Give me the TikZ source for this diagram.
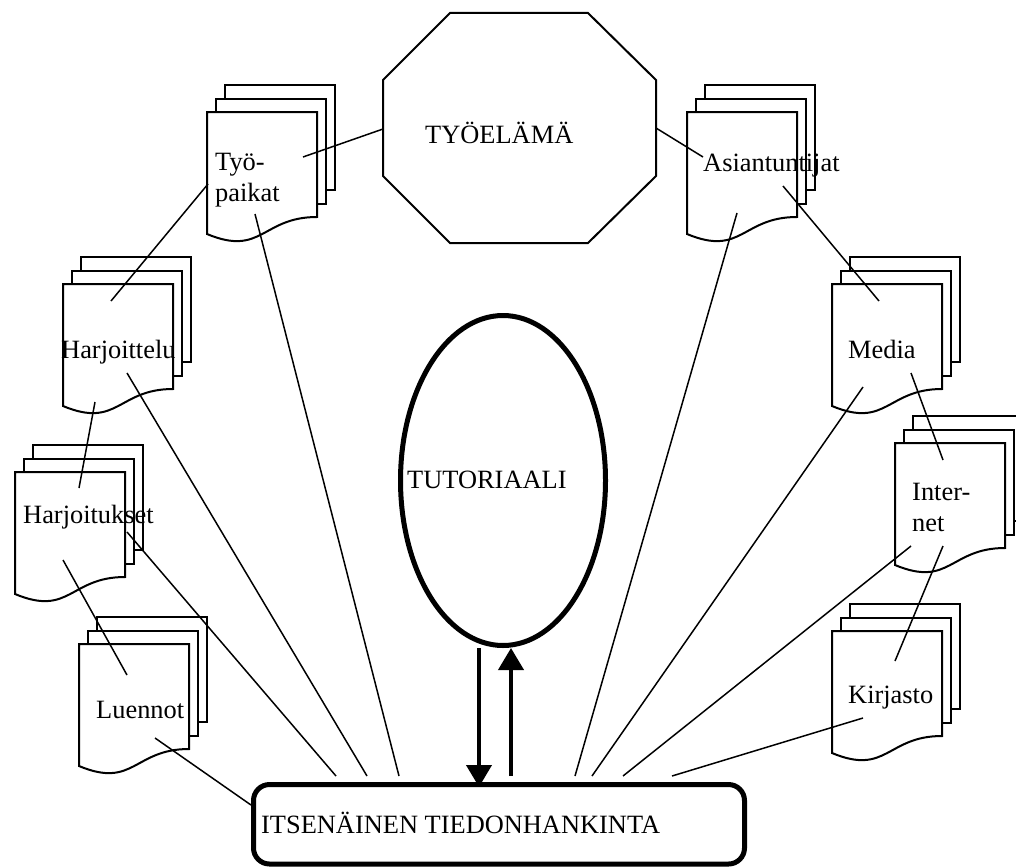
\documentclass[tikz,border=0pt]{standalone}
\usepackage{fontspec}
\setmainfont{Liberation Serif}
\usetikzlibrary{arrows.meta,shapes.geometric}

% stacked document symbol: front page top-left corner at (#1,#2)
\newcommand\docstack[2]{%
  \draw[sheet] (#1+18,#2-27) rectangle ++(110,105);
  \draw[sheet] (#1+9,#2-13) rectangle ++(110,105);
  \draw[sheet] (#1,#2) -- ++(110,0) -- ++(0,105)
    .. controls (#1+55,#2+105) and (#1+55,#2+145) .. (#1,#2+122) -- cycle;
}

\begin{document}
\begin{tikzpicture}[x=1pt,y=-1pt,
  sheet/.style={draw=black,fill=white,line width=2pt},
  link/.style={draw=black,line width=1.5pt},
  heavy/.style={draw=black,line width=4pt,-{Triangle[width=25pt,length=22pt]}},
  lbl/.style={font=\fontsize{26.4}{31.6}\selectfont,inner sep=0pt,anchor=base west},
]
\useasboundingbox (0,0) rectangle (1016,867);
\clip (0,0) rectangle (1016,867);
\fill[white] (0,0) rectangle (1016,867);

% octagon
\draw[black,line width=2pt,fill=white] (450,13) -- (588,13) -- (656,80) -- (656,176)
  -- (588,243) -- (450,243) -- (383,176) -- (383,80) -- cycle;
\node[lbl] (tyoelama) at (425,143) {TYÖELÄMÄ};

% central ellipse
\node[ellipse,draw=black,line width=5pt,minimum width=205pt,minimum height=330pt,inner sep=0pt] (tut) at (503,480.5) {};
\node[lbl] (tuttxt) at (407,488) {TUTORIAALI};

% bottom box
\node[draw=black,line width=5pt,rounded corners=16pt,minimum width=491pt,minimum height=79.5pt,inner sep=0pt] (box) at (499,824.25) {};
\node[lbl] (boxtxt) at (261,833) {ITSENÄINEN TIEDONHANKINTA};

% document stacks
\docstack{207}{112}
\docstack{687}{112}
\docstack{63}{284}
\docstack{832}{284}
\docstack{15}{472}
\docstack{895}{443}
\docstack{79}{644}
\docstack{832}{631}

\node[lbl] (tyopaikat) at (215,170) {\begin{tabular}[t]{@{}l@{}}Työ-\\paikat\end{tabular}};
\node[lbl] (asiant) at (703,171) {Asiantuntijat};
\node[lbl] (harjoittelu) at (61,358) {Harjoittelu};
\node[lbl] (media) at (848,358) {Media};
\node[lbl] (harjoitukset) at (23,523) {Harjoitukset};
\node[lbl] (internet) at (912,500) {\begin{tabular}[t]{@{}l@{}}Inter-\\net\end{tabular}};
\node[lbl] (luennot) at (96,718) {Luennot};
\node[lbl] (kirjasto) at (848,703) {Kirjasto};

% connector end points
\coordinate (oct-w) at (383,129);
\coordinate (oct-e) at (656,128);
\coordinate (tp-e) at (303,157);
\coordinate (tp-w) at (208,184);
\coordinate (tp-s) at (255,214);
\coordinate (as-w) at (703,157);
\coordinate (as-s) at (737,213);
\coordinate (as-se) at (783,186);
\coordinate (ha-n) at (111,301);
\coordinate (ha-se) at (127,373);
\coordinate (ha-s) at (95,402);
\coordinate (me-n) at (879,301);
\coordinate (me-se) at (911,373);
\coordinate (me-sw) at (863,387);
\coordinate (hk-n) at (79,488);
\coordinate (hk-e) at (127,532);
\coordinate (hk-s) at (63,560);
\coordinate (in-n) at (943,460);
\coordinate (in-sw) at (911,546);
\coordinate (in-s) at (943,546);
\coordinate (lu-n) at (127,675);
\coordinate (lu-e) at (155,738);
\coordinate (ki-n) at (895,661);
\coordinate (ki-w) at (863,718);
\coordinate (bx-w) at (251,805);
\coordinate (bx-1) at (336,776);
\coordinate (bx-2) at (367,776);
\coordinate (bx-3) at (399,776);
\coordinate (bx-4) at (575,776);
\coordinate (bx-5) at (592,776);
\coordinate (bx-6) at (623,776);
\coordinate (bx-7) at (672,776);

% connectors
\draw[link] (tp-e) -- (oct-w);
\draw[link] (oct-e) -- (as-w);
\draw[link] (ha-n) -- (tp-w);
\draw[link] (as-se) -- (me-n);
\draw[link] (ha-s) -- (hk-n);
\draw[link] (me-se) -- (in-n);
\draw[link] (hk-s) -- (lu-n);
\draw[link] (in-s) -- (ki-n);
\draw[link] (lu-e) -- (bx-w);
\draw[link] (hk-e) -- (bx-1);
\draw[link] (ha-se) -- (bx-2);
\draw[link] (tp-s) -- (bx-3);
\draw[link] (as-s) -- (bx-4);
\draw[link] (me-sw) -- (bx-5);
\draw[link] (in-sw) -- (bx-6);
\draw[link] (ki-w) -- (bx-7);

% arrows between the ellipse and the box
\draw[heavy] ([xshift=-24pt]tut.south) -- ([xshift=-24pt,yshift=-5pt]tut.south |- box.north);
\draw[heavy] ([xshift=8pt,yshift=6pt]tut.south |- box.north) -- ([xshift=8pt]tut.south);
\end{tikzpicture}
\end{document}
